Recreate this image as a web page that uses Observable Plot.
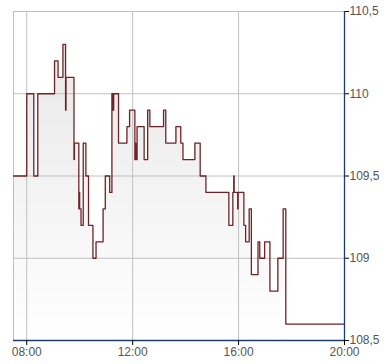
<!DOCTYPE html>
<html>
<head>
<meta charset="utf-8">
<script src="https://cdn.jsdelivr.net/npm/d3@7"></script>
<script src="https://cdn.jsdelivr.net/npm/@observablehq/plot@0.6"></script>
<style>
  html, body { margin: 0; padding: 0; background: #fff; }
  svg { display: block; }
</style>
</head>
<body>
<div id="chart"></div>
<script>
const times = ["07:30","08:00","08:16","08:25","09:03","09:11","09:22","09:28","09:29","09:47","09:48","09:58","09:59","10:00","10:03","10:08","10:14","10:20","10:30","10:37","10:53","10:58","11:08","11:13","11:15","11:17","11:28","11:47","11:53","12:05","12:06","12:07","12:10","12:26","12:34","12:39","13:10","13:15","13:38","13:49","13:54","14:21","14:33","14:46","15:38","15:47","15:49","15:50","15:58","15:59","16:12","16:16","16:24","16:29","16:44","16:48","16:59","17:11","17:29","17:41","17:47","20:00"];
const prices = [109.5,110,109.5,110,110.2,110.1,110.3,109.9,110.1,109.6,109.7,109.3,109.4,109.3,109.2,109.7,109.5,109.2,109.0,109.1,109.3,109.5,109.4,110.0,109.9,110.0,109.7,109.8,109.9,109.6,109.7,109.6,109.8,109.6,109.9,109.8,109.9,109.7,109.8,109.7,109.6,109.7,109.5,109.4,109.2,109.4,109.5,109.4,109.3,109.4,109.2,109.1,109.3,108.9,109.1,109.0,109.1,108.8,109.0,109.3,108.6,108.6];
const xTicks = [8, 12, 16, 20];
const xTickLabels = ["08:00", "12:00", "16:00", "20:00"];
const yTicks = [108.5, 109, 109.5, 110, 110.5];
const yTickLabels = ["108,5", "109", "109,5", "110", "110,5"];
const xDomain = [7.5, 20];
const yDomain = [108.5, 110.5];

const toHours = s => { const [h, m] = s.split(":").map(Number); return h + m / 60; };
const data = times.map((t, i) => ({ t: toHours(t), v: prices[i] }));

const gridColor = "#c0c0c0";
const axisColor = "#1c3c6c";
const lineColor = "#6e2328";

const chart = Plot.plot({
  width: 390,
  height: 364,
  marginLeft: 13,
  marginTop: 11,
  marginRight: 46,
  marginBottom: 24,
  style: { fontFamily: "'Liberation Sans', Arial, sans-serif", fontSize: "12px", background: "#fff" },
  x: { domain: xDomain },
  y: { domain: yDomain },
  marks: [
    Plot.areaY(data, { x: "t", y1: yDomain[0], y2: "v", curve: "step-after", fill: "url(#areaGrad)" }),
    Plot.gridX(xTicks.slice(0, 3), { stroke: gridColor, strokeOpacity: 1, strokeWidth: 1 }),
    Plot.gridY(yTicks.slice(1), { stroke: gridColor, strokeOpacity: 1, strokeWidth: 1 }),
    Plot.ruleX([xDomain[0]], { stroke: gridColor, strokeWidth: 1 }),
    Plot.lineY(data, { x: "t", y: "v", curve: "step-after", stroke: lineColor, strokeWidth: 1.3 }),
    Plot.ruleX([xDomain[1]], { stroke: axisColor, strokeWidth: 1.3 }),
    Plot.ruleY([yDomain[0]], { stroke: axisColor, strokeWidth: 1.3 }),
    Plot.axisY({ anchor: "right", ticks: yTicks, tickFormat: (d, i) => yTickLabels[yTicks.indexOf(d)], tickSize: 4, tickPadding: 1, stroke: "#000", fill: "#555", label: null }),
    Plot.axisX({ anchor: "bottom", ticks: xTicks, tickFormat: d => xTickLabels[xTicks.indexOf(d)], tickSize: 5, tickPadding: 2, stroke: "#000", fill: "#555", label: null })
  ]
});

const ns = "http://www.w3.org/2000/svg";
const defs = document.createElementNS(ns, "defs");
const grad = document.createElementNS(ns, "linearGradient");
grad.setAttribute("id", "areaGrad");
grad.setAttribute("x1", "0"); grad.setAttribute("y1", "0");
grad.setAttribute("x2", "0"); grad.setAttribute("y2", "1");
[["0", "#e8e8e8"], ["1", "#ffffff"]].forEach(([o, c]) => {
  const s = document.createElementNS(ns, "stop");
  s.setAttribute("offset", o); s.setAttribute("stop-color", c);
  grad.appendChild(s);
});
defs.appendChild(grad);
chart.insertBefore(defs, chart.firstChild);
document.getElementById("chart").appendChild(chart);
</script>
</body>
</html>
